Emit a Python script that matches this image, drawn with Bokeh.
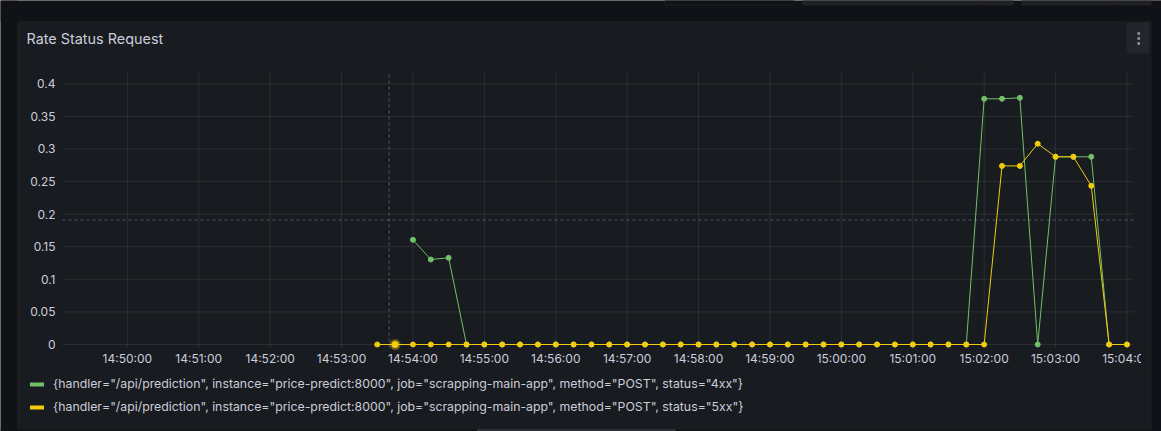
from datetime import datetime
from bokeh.plotting import figure
from bokeh.models import (Range1d, FixedTicker, DatetimeTickFormatter, CustomJSTickFormatter,
                          BoxAnnotation, Label, Legend, LegendItem, DatetimeAxis, LinearAxis)
from bokeh.embed import file_html
from bokeh.resources import INLINE

# ---------------- data ----------------
title_text = "Rate Status Request"
label_4xx = '{handler="/api/prediction", instance="price-predict:8000", job="scrapping-main-app", method="POST", status="4xx"}'
label_5xx = '{handler="/api/prediction", instance="price-predict:8000", job="scrapping-main-app", method="POST", status="5xx"}'

times_4xx = [
    "14:54:00", "14:54:15", "14:54:30", "14:54:45",
    "14:55:00", "14:55:15", "14:55:30", "14:55:45",
    "14:56:00", "14:56:15", "14:56:30", "14:56:45",
    "14:57:00", "14:57:15", "14:57:30", "14:57:45",
    "14:58:00", "14:58:15", "14:58:30", "14:58:45",
    "14:59:00", "14:59:15", "14:59:30", "14:59:45",
    "15:00:00", "15:00:15", "15:00:30", "15:00:45",
    "15:01:00", "15:01:15", "15:01:30", "15:01:45",
    "15:02:00", "15:02:15", "15:02:30", "15:02:45",
    "15:03:00", "15:03:15", "15:03:30", "15:03:45",
    "15:04:00",
]
values_4xx = [
    0.1606, 0.1304, 0.133, 0,
    0, 0, 0, 0,
    0, 0, 0, 0,
    0, 0, 0, 0,
    0, 0, 0, 0,
    0, 0, 0, 0,
    0, 0, 0, 0,
    0, 0, 0, 0,
    0.377, 0.377, 0.3785, 0,
    0.288, 0.288, 0.288, 0,
    0,
]

times_5xx = [
    "14:53:30", "14:53:45",
    "14:54:00", "14:54:15", "14:54:30", "14:54:45",
    "14:55:00", "14:55:15", "14:55:30", "14:55:45",
    "14:56:00", "14:56:15", "14:56:30", "14:56:45",
    "14:57:00", "14:57:15", "14:57:30", "14:57:45",
    "14:58:00", "14:58:15", "14:58:30", "14:58:45",
    "14:59:00", "14:59:15", "14:59:30", "14:59:45",
    "15:00:00", "15:00:15", "15:00:30", "15:00:45",
    "15:01:00", "15:01:15", "15:01:30", "15:01:45",
    "15:02:00", "15:02:15", "15:02:30", "15:02:45",
    "15:03:00", "15:03:15", "15:03:30", "15:03:45",
    "15:04:00",
]
values_5xx = [
    0, 0,
    0, 0, 0, 0,
    0, 0, 0, 0,
    0, 0, 0, 0,
    0, 0, 0, 0,
    0, 0, 0, 0,
    0, 0, 0, 0,
    0, 0, 0, 0,
    0, 0, 0, 0,
    0, 0.274, 0.274, 0.308,
    0.288, 0.288, 0.2435, 0,
    0,
]

x_tick_times = ["14:50:00", "14:51:00", "14:52:00", "14:53:00", "14:54:00", "14:55:00",
                "14:56:00", "14:57:00", "14:58:00", "14:59:00", "15:00:00", "15:01:00",
                "15:02:00", "15:03:00", "15:04:00"]
y_ticks = [0, 0.05, 0.1, 0.15, 0.2, 0.25, 0.3, 0.35, 0.4]

# plot area (time and value shown inside the grid) and the whole panel's extent
time_range = ("14:49:05.5", "15:04:05.5")
value_range = (-0.0046, 0.4189)
canvas_time_range = ("14:48:13.4", "15:04:29.03")
canvas_value_range = (-0.1335, 0.5278)

hover_time = "14:53:45"
hover_value = 0
crosshair_time = "14:53:40"
crosshair_value = 0.191

# ---------------- style ----------------
PAGE = "#111217"
PANEL = "#181b1f"
TEXT = "#ccccdc"
GREEN = "#73bf69"
YELLOW = "#f2cc0c"
BORDER = "#2a2d33"
FONT = "Inter"

EPOCH = datetime(1970, 1, 1)


def t(s):
    parts = s.split(":")
    sec = float(parts[2])
    return datetime(2024, 5, 20, int(parts[0]), int(parts[1]), int(sec),
                    int(round((sec - int(sec)) * 1e6)))


def ms(s):
    return (t(s) - EPOCH).total_seconds() * 1000.0


p = figure(width=1161, height=431, output_backend="svg", toolbar_location=None,
           x_axis_type=None, y_axis_type=None,
           x_range=Range1d(t(canvas_time_range[0]), t(canvas_time_range[1])),
           y_range=Range1d(*canvas_value_range),
           min_border=0, min_border_left=0, min_border_right=0,
           min_border_top=0, min_border_bottom=0,
           background_fill_color=PANEL, border_fill_color=PANEL, outline_line_color=None)
p.grid.visible = False

# axes, placed at the edges of the plot area
fmt = "%H:%M:%S"
xaxis = DatetimeAxis(ticker=FixedTicker(ticks=[ms(s) for s in x_tick_times]),
                     formatter=DatetimeTickFormatter(seconds=fmt, minsec=fmt, minutes=fmt,
                                                     hourmin=fmt, hours=fmt),
                     fixed_location=value_range[0])
yaxis = LinearAxis(ticker=FixedTicker(ticks=y_ticks),
                   formatter=CustomJSTickFormatter(code="return String(Number(tick.toFixed(3)));"),
                   fixed_location=ms(time_range[0]))
for ax in (xaxis, yaxis):
    ax.axis_line_color = None
    ax.major_tick_line_color = None
    ax.minor_tick_line_color = None
    ax.major_tick_in = 0
    ax.major_tick_out = 0
    ax.major_label_text_font = FONT
    ax.major_label_text_font_size = "12px"
    ax.major_label_text_color = TEXT
xaxis.major_label_standoff = 4
yaxis.major_label_standoff = 7
p.add_layout(xaxis, "below")
p.add_layout(yaxis, "left")

# grid lines inside the plot area
xt = [t(s) for s in x_tick_times]
p.segment(x0=xt, x1=xt, y0=[value_range[0]] * len(xt), y1=[value_range[1]] * len(xt),
          line_color=TEXT, line_alpha=0.1, line_width=1)
p.segment(x0=[t(time_range[0])] * len(y_ticks), x1=[t(time_range[1])] * len(y_ticks),
          y0=y_ticks, y1=y_ticks, line_color=TEXT, line_alpha=0.1, line_width=1)

# crosshair
p.segment(x0=[t(crosshair_time)], x1=[t(crosshair_time)], y0=[value_range[0]], y1=[value_range[1]],
          line_color=TEXT, line_alpha=0.35, line_dash="3 3", line_width=1)
p.segment(x0=[t(time_range[0])], x1=[t(time_range[1])], y0=[crosshair_value], y1=[crosshair_value],
          line_color=TEXT, line_alpha=0.35, line_dash="3 3", line_width=1)

# series
x4 = [t(s) for s in times_4xx]
x5 = [t(s) for s in times_5xx]
p.line(x4, values_4xx, line_color=GREEN, line_width=1)
p.scatter(x4, values_4xx, size=5, fill_color=GREEN, line_color=GREEN)
p.line(x5, values_5xx, line_color=YELLOW, line_width=1)
p.scatter(x5, values_5xx, size=5, fill_color=YELLOW, line_color=YELLOW)
p.scatter([t(hover_time)], [hover_value], size=11, fill_color=YELLOW, line_color=None, fill_alpha=0.35)
p.scatter([t(hover_time)], [hover_value], size=7, fill_color=YELLOW, line_color=None)

# legend (swatch renderers hold no visible point)
nan = float("nan")
g_leg = p.line([t(time_range[0])], [nan], line_color=GREEN, line_width=4, line_cap="round")
y_leg = p.line([t(time_range[0])], [nan], line_color=YELLOW, line_width=4, line_cap="round")
legend = Legend(items=[LegendItem(label=label_4xx, renderers=[g_leg]),
                       LegendItem(label=label_5xx, renderers=[y_leg])],
                location=(30, 14.3), padding=0, margin=0, glyph_width=14, glyph_height=20,
                label_height=20, spacing=3, label_standoff=9,
                background_fill_alpha=0, border_line_alpha=0,
                label_text_color=TEXT, label_text_font=FONT, label_text_font_size="12.3px")
p.add_layout(legend)


def box(l, r, tp, b, **kw):
    p.add_layout(BoxAnnotation(left=l, right=r, top=tp, bottom=b,
                               left_units="canvas", right_units="canvas",
                               top_units="canvas", bottom_units="canvas", **kw))


# clip tail of last x label like the panel does
box(1140.5, 1151, 349, 370, fill_color=PANEL, fill_alpha=1, line_color=None)
# page background around panel
box(0, 17, 0, 431, fill_color=PAGE, fill_alpha=1, line_color=None)
box(0, 1161, 0, 21, fill_color=PAGE, fill_alpha=1, line_color=None)
box(1150.5, 1161, 0, 431, fill_color=PAGE, fill_alpha=1, line_color=None)
box(0, 1161, 428.5, 431, fill_color=PAGE, fill_alpha=1, line_color=None)
# panel border
box(17.5, 1150.5, 21.5, 428.5, fill_alpha=0, line_color=BORDER, line_width=1)
# bottom handle
box(476.5, 675, 428.5, 432, fill_color="#2e3036", fill_alpha=1, line_color=None)
# header controls (top strip)
box(664.5, 793.5, -3, 4.5, fill_color=PAGE, fill_alpha=1, line_color="#34373d", line_width=1)
box(802.5, 1012.5, -3, 4.5, fill_color="#1e2025", fill_alpha=1, line_color="#34373d", line_width=1)
box(977.5, 977.5, -3, 4.5, fill_alpha=0, line_color="#34373d", line_width=1)
box(1021.5, 1150.5, -3, 4.5, fill_color="#1e2025", fill_alpha=1, line_color="#34373d", line_width=1)
box(1117.5, 1117.5, -3, 4.5, fill_alpha=0, line_color="#34373d", line_width=1)
# panel menu button
box(1126, 1149, 22, 53, fill_color="#22252b", fill_alpha=1, line_color=None)
for cy in (33, 38, 43):
    box(1137, 1139.5, cy - 1.2, cy + 1.2, fill_color="#9a9aa3", fill_alpha=1, line_color=None)

p.add_layout(Label(x=26, y=37.5, x_units="canvas", y_units="canvas", text=title_text,
                   text_font=FONT, text_font_size="14.4px", text_color=TEXT,
                   text_baseline="middle", text_align="left"))

open("out.html", "w").write(file_html(p, INLINE))
